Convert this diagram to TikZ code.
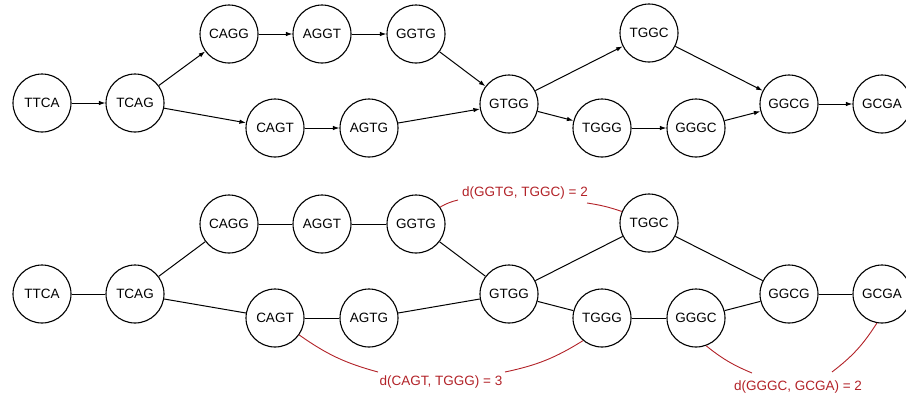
\documentclass[tikz,border=0pt]{standalone}
\usepackage{fontspec}
\setmainfont{Liberation Sans}
\usetikzlibrary{arrows.meta}
\definecolor{dred}{RGB}{178,34,40}
\begin{document}
\begin{tikzpicture}[x=1pt,y=-1pt,
  kmer/.style={circle,draw,line width=1.1pt,minimum size=58pt,inner sep=0pt,font=\fontsize{13.5}{16}\selectfont},
  arr/.style={line width=1pt,-{Latex[length=6.5pt,width=4.5pt]}},
  und/.style={line width=1pt},
  dist/.style={dred,line width=0.9pt},
  dlab/.style={text=dred,font=\fontsize{13.5}{16}\selectfont,inner sep=1pt}]
\useasboundingbox (0,0) rectangle (906,399);
% top graph
\node[kmer] (a1) at (42,103) {TTCA};
\node[kmer] (a2) at (135,103) {TCAG};
\node[kmer] (a3) at (229,34) {CAGG};
\node[kmer] (a4) at (322,34) {AGGT};
\node[kmer] (a5) at (416,34) {GGTG};
\node[kmer] (a6) at (275,128) {CAGT};
\node[kmer] (a7) at (369,128) {AGTG};
\node[kmer] (a8) at (509,104) {GTGG};
\node[kmer] (a9) at (649,33) {TGGC};
\node[kmer] (a10) at (602,128) {TGGG};
\node[kmer] (a11) at (696,128) {GGGC};
\node[kmer] (a12) at (789,104) {GGCG};
\node[kmer] (a13) at (882,104) {GCGA};
\draw[arr] (a1) -- (a2);
\draw[arr] (a2) -- (a3);
\draw[arr] (a2) -- (a6);
\draw[arr] (a3) -- (a4);
\draw[arr] (a4) -- (a5);
\draw[arr] (a6) -- (a7);
\draw[arr] (a5) -- (a8);
\draw[arr] (a7) -- (a8);
\draw[arr] (a8) -- (a9);
\draw[arr] (a8) -- (a10);
\draw[arr] (a10) -- (a11);
\draw[arr] (a9) -- (a12);
\draw[arr] (a11) -- (a12);
\draw[arr] (a12) -- (a13);
% bottom graph
\node[kmer] (b1) at (42,294) {TTCA};
\node[kmer] (b2) at (135,294) {TCAG};
\node[kmer] (b3) at (229,224) {CAGG};
\node[kmer] (b4) at (322,224) {AGGT};
\node[kmer] (b5) at (416,224) {GGTG};
\node[kmer] (b6) at (275,318) {CAGT};
\node[kmer] (b7) at (369,318) {AGTG};
\node[kmer] (b8) at (509,294) {GTGG};
\node[kmer] (b9) at (649,223) {TGGC};
\node[kmer] (b10) at (602,318) {TGGG};
\node[kmer] (b11) at (696,318) {GGGC};
\node[kmer] (b12) at (789,294) {GGCG};
\node[kmer] (b13) at (882,294) {GCGA};
\draw[und] (b1) -- (b2);
\draw[und] (b2) -- (b3);
\draw[und] (b2) -- (b6);
\draw[und] (b3) -- (b4);
\draw[und] (b4) -- (b5);
\draw[und] (b6) -- (b7);
\draw[und] (b5) -- (b8);
\draw[und] (b7) -- (b8);
\draw[und] (b8) -- (b9);
\draw[und] (b8) -- (b10);
\draw[und] (b10) -- (b11);
\draw[und] (b9) -- (b12);
\draw[und] (b11) -- (b12);
\draw[und] (b12) -- (b13);
% distance labels
\node[dlab] (l1) at (525,193) {d(GGTG, TGGC) = 2};
\node[dlab] (l2) at (441,382) {d(CAGT, TGGG) = 3};
\node[dlab] (l3) at (798,387) {d(GGGC, GCGA) = 2};
\coordinate (l1a) at (458,200);
\coordinate (l1b) at (587,203);
\coordinate (l2a) at (378,372);
\coordinate (l2b) at (505,372);
\coordinate (l3a) at (752,373);
\coordinate (l3b) at (832,372);
\draw[dist] (b5.35) to[bend left=8] (l1a);
\draw[dist] (l1b) to[bend left=5] (b9.157);
\draw[dist] (b6.-35) to[bend right=10] (l2a);
\draw[dist] (b10.-130) to[bend left=10] (l2b);
\draw[dist] (b11.-70) to[bend right=8] (l3a);
\draw[dist] (b13.-100) to[bend left=10] (l3b);
\end{tikzpicture}
\end{document}
